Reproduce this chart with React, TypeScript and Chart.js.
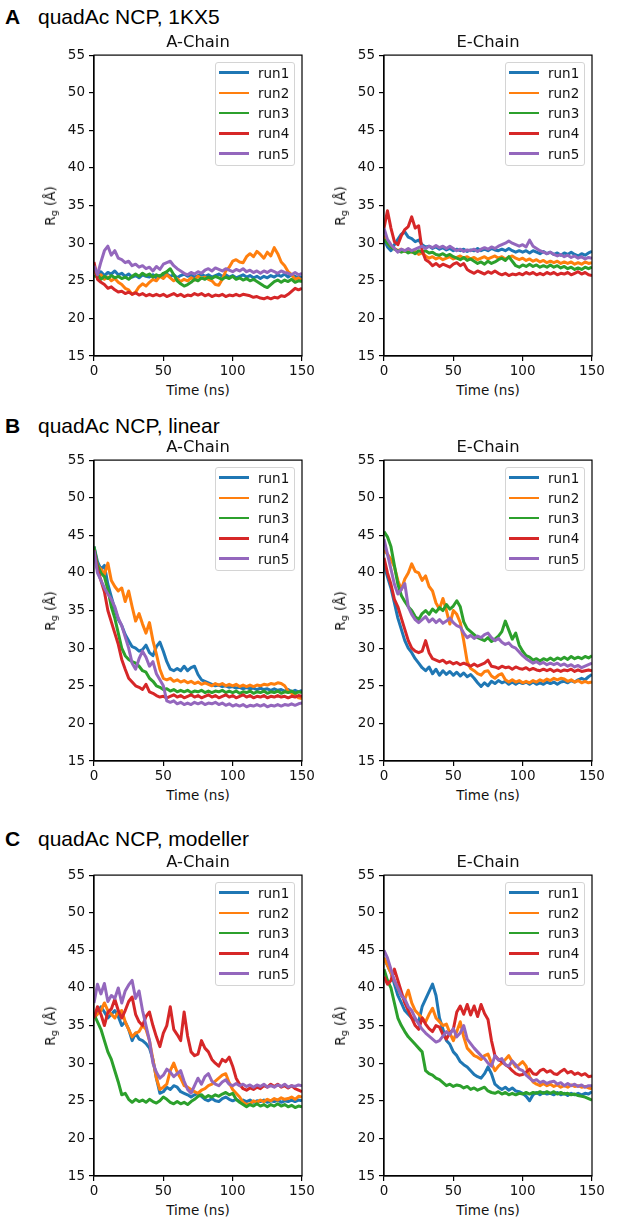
import React, { useEffect, useRef } from "react";
import { Chart, registerables } from "chart.js";

Chart.register(...registerables);

// ---------------- data ----------------
const TIME_NS = [
  0, 2.5, 5, 7.5, 10, 12.5, 15, 17.5, 20, 22.5,
  25, 27.5, 30, 32.5, 35, 37.5, 40, 42.5, 45, 47.5,
  50, 52.5, 55, 57.5, 60, 62.5, 65, 67.5, 70, 72.5,
  75, 77.5, 80, 82.5, 85, 87.5, 90, 92.5, 95, 97.5,
  100, 102.5, 105, 107.5, 110, 112.5, 115, 117.5, 120, 122.5,
  125, 127.5, 130, 132.5, 135, 137.5, 140, 142.5, 145, 147.5, 150,
];
const RUN_LABELS = ["run1", "run2", "run3", "run4", "run5"];
const RUN_COLORS = ["#1f77b4", "#ff7f0e", "#2ca02c", "#d62728", "#9467bd"];
const X_TICKS = [0, 50, 100, 150];
const Y_TICKS = [15, 20, 25, 30, 35, 40, 45, 50, 55];

// Panel A: 1KX5, A-Chain
const A1KX5_A_RUN1 = [
  26.5, 25.8, 26.2, 25.7, 26.1, 25.9, 26.3, 25.8, 26.0, 25.6,
  25.9, 25.5, 25.7, 25.4, 25.8, 25.6, 25.5, 25.8, 25.4, 25.7,
  25.5, 25.9, 25.6, 25.8, 25.4, 25.7, 25.9, 25.6, 25.8, 25.5,
  25.7, 25.9, 25.6, 25.8, 25.5, 25.7, 25.9, 25.6, 25.8, 25.5,
  25.7, 25.4, 25.6, 25.8, 25.5, 25.7, 25.4, 25.6, 25.3, 25.6,
  25.4, 25.7, 25.5, 25.8, 25.6, 25.9, 25.5, 25.8, 25.6, 25.4, 25.6,
];
const A1KX5_A_RUN2 = [
  26.5, 25.5, 25.8, 25.2, 25.5, 25.0, 25.3, 24.8, 24.5, 24.0,
  23.8, 23.2, 23.5, 24.2, 24.6, 24.3, 24.8, 25.2, 25.0, 25.6,
  25.3, 25.8, 25.4, 25.0, 25.3, 24.9, 25.2, 25.0, 25.4, 25.1,
  25.6, 25.3, 25.5, 25.2, 25.0, 24.5, 24.4, 25.2, 26.3, 26.8,
  27.6, 27.8, 27.5, 27.4, 28.2, 28.6, 28.2, 28.9, 28.5, 28.0,
  28.8, 28.3, 29.4, 28.6, 27.5, 27.0, 26.2, 25.8, 25.2, 25.4, 25.0,
];
const A1KX5_A_RUN3 = [
  25.5, 25.8, 25.2, 25.6, 25.3, 25.7, 25.4, 25.6, 25.3, 25.5,
  25.2, 25.6, 25.9, 25.6, 26.0, 25.7, 25.9, 25.5, 25.8, 25.6,
  26.0, 26.2, 26.6, 25.8, 25.0, 24.6, 24.3, 24.5, 24.8, 25.2,
  25.0, 25.4, 25.2, 25.5, 25.3, 25.6, 25.4, 25.2, 25.5, 25.3,
  25.6, 25.2, 25.4, 25.1, 25.3, 25.0, 25.2, 24.9, 24.6, 24.3,
  24.1, 24.5, 24.9, 25.1, 24.8, 25.1, 24.9, 25.2, 24.8, 25.0, 24.9,
];
const A1KX5_A_RUN4 = [
  27.5, 25.2, 24.8, 24.5, 24.0, 24.2, 23.8, 23.5, 23.6, 23.3,
  23.5, 23.2, 23.4, 23.1, 23.3, 23.0, 23.2, 23.0, 23.2, 23.0,
  23.2, 22.9, 23.1, 23.3, 23.0, 23.2, 22.9, 23.1, 23.0, 23.3,
  23.1, 23.3, 23.0, 23.2, 22.9, 23.1, 23.0, 23.2, 22.9, 23.1,
  23.0, 23.2, 23.0, 23.2, 23.1, 23.0, 22.8, 22.9, 22.7, 22.6,
  22.8, 22.6, 22.8, 22.7, 23.0, 22.9, 23.2, 23.6, 24.0, 23.8, 24.0,
];
const A1KX5_A_RUN5 = [
  27.0, 25.8, 27.5, 29.0, 29.6, 28.4, 29.0, 28.0, 27.8, 27.4,
  27.6, 27.0, 27.2, 26.8, 27.0, 26.6, 26.8, 26.3, 26.9, 26.5,
  27.2, 27.4, 27.6, 27.0, 26.6, 26.3, 26.0, 25.8, 26.1, 25.9,
  26.2, 26.0, 26.4, 26.6, 26.3, 26.7, 26.5, 26.3, 26.6, 26.4,
  26.2, 26.5, 26.3, 26.6, 26.2, 26.4, 26.1, 26.3, 26.0, 26.3,
  26.1, 26.4, 26.2, 26.0, 26.3, 26.1, 26.0, 25.8, 26.1, 25.8, 26.0,
];

// Panel A: 1KX5, E-Chain
const A1KX5_E_RUN1 = [
  30.5, 29.5, 29.0, 29.8, 30.5, 31.2, 31.5, 30.8, 30.6, 30.2,
  30.4, 29.8, 29.5, 29.6, 29.3, 29.5, 29.2, 29.4, 29.1, 29.3,
  29.0, 29.2, 29.0, 29.2, 28.9, 29.1, 29.0, 29.3, 29.0, 29.2,
  29.0, 29.3, 29.1, 29.0, 29.2, 29.0, 29.3, 29.0, 28.8, 29.0,
  28.8, 29.0, 28.7, 29.0, 28.8, 28.6, 28.9, 28.6, 28.8, 28.5,
  28.7, 28.4, 28.7, 28.5, 28.8, 28.5, 28.3, 28.6, 28.4, 28.7, 28.9,
];
const A1KX5_E_RUN2 = [
  31.0, 30.0, 29.5, 29.3, 29.0, 29.2, 28.9, 29.1, 28.8, 28.9,
  28.5, 28.7, 28.3, 28.0, 28.2, 27.9, 28.1, 27.8, 28.0, 28.2,
  27.9, 28.1, 28.3, 28.0, 28.2, 27.9, 28.1, 27.8, 28.0, 28.2,
  27.9, 28.1, 28.3, 28.0, 28.2, 27.9, 28.1, 28.3, 28.0, 27.8,
  28.0, 27.7, 27.9, 27.6, 27.8, 27.5, 27.7, 27.4, 27.6, 27.4,
  27.6, 27.3, 27.5, 27.3, 27.5, 27.2, 27.4, 27.2, 27.5, 27.3, 27.4,
];
const A1KX5_E_RUN3 = [
  30.5, 30.0, 29.5, 29.2, 29.0, 28.8, 29.0, 28.7, 28.9, 28.6,
  29.0, 28.8, 29.0, 28.7, 28.8, 28.5, 28.4, 28.6, 28.3, 28.5,
  28.2, 28.0, 27.8, 28.1, 27.7, 27.9, 27.6, 27.3, 27.5, 27.2,
  27.6, 27.3, 27.5, 27.8, 28.0, 27.7, 28.2, 27.6, 27.0, 26.8,
  27.1, 26.9, 27.2, 26.9, 27.1, 26.8, 27.0, 26.8, 27.1, 26.8,
  27.0, 26.7, 26.9, 26.6, 26.8, 26.5, 26.7, 26.5, 26.8, 26.6, 26.8,
];
const A1KX5_E_RUN4 = [
  32.0, 34.3, 32.0, 30.2, 29.8, 31.0, 31.8, 32.2, 33.5, 32.0,
  32.3, 29.0, 27.8, 27.5, 27.0, 27.3, 26.9, 27.2, 27.0, 26.8,
  27.2, 27.4, 27.0, 27.3, 26.5, 26.2, 26.0, 26.3, 26.1, 25.9,
  26.2, 26.0, 26.3, 26.0, 25.8, 26.0, 25.7, 25.9, 25.8, 26.0,
  25.8, 26.1, 25.9, 26.1, 25.8, 26.0, 25.8, 26.1, 25.9, 26.1,
  25.8, 26.0, 25.9, 26.1, 25.8, 26.0, 26.2, 25.9, 26.1, 25.8, 25.7,
];
const A1KX5_E_RUN5 = [
  32.0, 30.5, 29.8, 29.3, 28.8, 29.2, 29.0, 29.3, 29.0, 29.2,
  29.4, 29.6, 29.3, 29.6, 29.4, 29.7, 29.4, 29.6, 29.3, 29.6,
  29.3, 29.0, 29.2, 28.9, 29.1, 29.0, 29.2, 28.9, 29.2, 29.4,
  29.2, 29.5, 29.3, 29.6, 29.8, 30.0, 30.3, 30.0, 29.8, 29.6,
  29.8, 29.5, 30.4, 29.6, 29.3, 29.0, 28.8, 28.6, 28.8, 28.5,
  28.3, 28.5, 28.2, 28.4, 28.1, 28.3, 28.0, 28.2, 27.9, 28.1, 28.0,
];

// Panel B: linear, A-Chain
const BLIN_A_RUN1 = [
  43.5, 41.5, 40.5, 41.0, 38.5, 36.8, 35.2, 33.8, 33.0, 31.8,
  31.0, 30.2, 30.0, 29.6, 29.8, 30.4, 29.4, 29.0, 30.2, 30.8,
  29.6, 28.2, 27.2, 27.0, 27.3, 27.0, 27.6, 27.0, 27.4, 27.6,
  26.5, 25.8, 25.6, 25.4, 25.2, 25.0, 25.1, 24.9, 25.0, 24.8,
  24.9, 24.7, 24.8, 24.6, 24.8, 24.6, 24.7, 24.5, 24.7, 24.5,
  24.6, 24.4, 24.6, 24.4, 24.5, 24.3, 24.5, 24.2, 24.4, 24.2, 24.4,
];
const BLIN_A_RUN2 = [
  43.0, 41.0, 40.5, 39.8, 41.3, 39.0, 38.2, 37.6, 38.0, 36.2,
  37.6, 35.5, 33.6, 34.6, 33.2, 32.0, 33.4, 31.0, 29.2, 27.2,
  26.0, 25.8, 26.0, 25.6, 25.8, 25.5, 25.7, 25.4, 25.6, 25.3,
  25.5, 25.2, 25.4, 25.2, 25.0, 25.3, 25.1, 25.3, 25.0, 25.2,
  25.0, 25.2, 24.9, 25.1, 24.9, 25.1, 24.9, 25.1, 25.0, 25.2,
  25.1, 25.3, 25.2, 25.4, 25.3, 25.0, 24.3, 24.0, 23.8, 23.4, 23.3,
];
const BLIN_A_RUN3 = [
  43.5, 41.0, 40.0, 39.5, 37.8, 35.5, 34.0, 32.0, 30.0, 29.0,
  28.5, 28.2, 28.0, 27.6, 27.0, 26.8, 26.0, 25.6, 25.0, 24.8,
  24.5, 24.6, 24.3, 24.5, 24.2, 24.4, 24.2, 24.4, 24.1, 24.3,
  24.2, 24.4, 24.1, 24.3, 24.1, 24.3, 24.2, 24.4, 24.1, 24.3,
  24.1, 24.3, 24.0, 24.2, 24.1, 24.3, 24.0, 24.2, 24.1, 24.3,
  24.0, 24.2, 24.1, 24.3, 24.0, 24.2, 24.1, 24.3, 24.0, 24.2, 24.1,
];
const BLIN_A_RUN4 = [
  43.0, 40.5, 39.0, 37.5, 35.0, 33.5, 32.0, 30.5, 28.5, 27.2,
  26.0, 25.5, 25.0, 24.8, 24.5, 25.2, 24.2, 24.0, 23.7, 23.5,
  23.6, 23.4, 23.6, 23.8, 23.5, 23.7, 23.4, 23.6, 23.8, 23.5,
  23.7, 23.4, 23.6, 23.8, 23.5, 23.7, 23.4, 23.6, 23.8, 23.5,
  23.7, 23.4, 23.6, 23.8, 23.5, 23.7, 23.4, 23.6, 23.5, 23.7,
  23.4, 23.6, 23.5, 23.7, 23.5, 23.6, 23.4, 23.6, 23.5, 23.7, 23.6,
];
const BLIN_A_RUN5 = [
  43.0, 40.0, 39.0, 38.0, 37.2, 36.5, 35.5, 34.0, 33.0, 31.5,
  30.0, 28.0, 27.2, 28.6, 29.6, 28.8, 27.6, 28.2, 26.6, 25.8,
  25.0, 23.0, 22.8, 23.0, 22.6, 22.8, 22.5, 22.7, 22.5, 22.8,
  22.6, 22.8, 22.5, 22.7, 22.6, 22.8, 22.5, 22.7, 22.4, 22.6,
  22.3, 22.5, 22.3, 22.5, 22.2, 22.4, 22.3, 22.5, 22.3, 22.5,
  22.2, 22.4, 22.3, 22.5, 22.3, 22.5, 22.4, 22.6, 22.4, 22.6, 22.7,
];

// Panel B: linear, E-Chain
const BLIN_E_RUN1 = [
  41.0, 39.5, 38.0, 36.0, 34.0, 32.5, 31.0, 30.0, 29.4, 28.6,
  28.0, 27.4, 27.0, 27.5, 26.6, 27.2, 26.4, 27.0, 26.5, 26.9,
  26.4, 26.8, 26.3, 26.7, 26.2, 26.5, 26.0, 25.4, 24.9, 25.4,
  25.0, 25.6, 25.3, 25.7, 25.4, 25.6, 25.2, 25.5, 25.2, 25.5,
  25.3, 25.5, 25.2, 25.5, 25.2, 25.4, 25.2, 25.5, 25.3, 25.5,
  25.2, 25.5, 25.6, 25.4, 25.7, 25.5, 25.8, 26.0, 25.8, 26.2, 26.5,
];
const BLIN_E_RUN2 = [
  43.0, 42.5, 41.8, 40.8, 39.0, 37.8, 39.2, 40.0, 41.2, 40.2,
  40.0, 39.0, 39.6, 38.2, 37.6, 36.0, 35.2, 36.6, 35.0, 33.2,
  35.0, 34.5, 33.4, 31.0, 28.2, 27.3, 27.0, 26.6, 26.4, 26.9,
  27.0, 26.3, 26.0, 26.4, 26.6, 25.8, 25.5, 25.8, 25.5, 25.7,
  25.4, 25.6, 25.4, 25.7, 25.5, 25.8, 25.6, 25.9, 25.7, 26.0,
  25.8, 26.0, 25.9, 25.6, 25.8, 25.5, 25.7, 25.4, 25.6, 25.4, 25.5,
];
const BLIN_E_RUN3 = [
  45.5, 44.8, 43.5, 41.0, 38.5, 37.0, 36.2, 35.5, 35.0, 34.2,
  33.8, 34.6, 35.0, 34.5, 35.2, 34.8, 35.4, 35.0, 35.8, 35.2,
  35.6, 36.3, 35.5, 33.5, 32.6, 32.2, 31.8, 31.4, 31.2, 31.0,
  31.4, 30.9, 31.2, 31.6, 32.2, 33.6, 32.4, 31.2, 32.0, 30.4,
  29.6, 29.0, 28.8, 28.4, 28.6, 28.3, 28.6, 28.4, 28.7, 28.4,
  28.7, 28.5, 28.8, 28.5, 28.9, 28.6, 28.8, 28.6, 28.9, 28.7, 29.0,
];
const BLIN_E_RUN4 = [
  42.0, 40.0, 38.5, 36.5, 35.5, 34.0, 32.5, 31.0, 30.0, 29.6,
  29.4, 29.6, 31.0, 29.4, 28.6, 28.4, 28.2, 28.4, 28.0, 28.2,
  27.9, 28.1, 27.8, 28.0, 27.8, 27.6, 27.9, 27.6, 27.8, 28.0,
  28.4, 27.6, 27.5, 27.3, 27.6, 27.4, 27.5, 27.2, 27.5, 27.3,
  27.2, 27.4, 27.1, 27.3, 27.1, 27.0, 27.2, 27.0, 27.2, 26.9,
  27.1, 26.9, 27.1, 27.0, 27.2, 26.9, 27.1, 26.9, 27.0, 27.1, 27.0,
];
const BLIN_E_RUN5 = [
  44.5, 42.5, 40.5, 38.5, 37.2, 37.8, 38.6, 35.5, 34.5, 33.8,
  33.4, 33.8, 34.2, 33.5, 33.9, 33.4, 33.8, 33.3, 33.6, 34.0,
  33.4, 33.0, 32.8, 32.0, 31.4, 31.7, 31.3, 31.6, 31.4, 31.8,
  32.0, 31.4, 31.0, 31.3, 30.8, 30.5, 30.7, 30.2, 30.0, 29.5,
  29.0, 28.6, 28.3, 28.0, 28.2, 27.9, 28.1, 27.8, 28.0, 27.8,
  28.0, 27.7, 27.9, 27.6, 27.8, 27.5, 27.7, 27.4, 27.6, 27.8, 28.0,
];

// Panel C: modeller, A-Chain
const CMOD_A_RUN1 = [
  36.0, 36.8, 37.5, 36.8, 36.0, 36.5, 37.0, 36.2, 35.0, 35.5,
  34.5, 33.0, 34.0, 33.2, 33.0, 32.6, 32.0, 30.5, 28.0, 26.0,
  26.2, 26.8, 26.5, 27.0, 26.8, 26.2, 26.0, 25.8, 25.5, 25.8,
  26.0, 25.6, 25.2, 25.0, 25.3, 25.0, 24.9, 25.3, 25.5, 25.2,
  25.0, 25.2, 24.9, 25.1, 24.9, 25.1, 24.8, 25.0, 24.9, 25.1,
  24.8, 25.0, 24.9, 25.1, 24.8, 25.0, 24.9, 25.1, 24.9, 25.1, 25.0,
];
const CMOD_A_RUN2 = [
  36.0, 36.5, 37.0, 38.0, 37.0, 36.5, 36.0, 36.8, 37.0, 35.5,
  34.5, 33.5, 34.0, 34.2, 35.0, 34.5, 33.0, 30.5, 28.0, 26.5,
  26.8, 27.2, 29.0, 30.0, 28.8, 28.0, 27.0, 26.8, 26.5, 26.2,
  26.0, 26.4, 26.6, 27.0, 27.2, 27.6, 28.0, 28.4, 28.6, 27.4,
  26.5, 26.0, 25.5, 24.8, 24.5, 24.6, 25.0, 24.8, 25.1, 24.9,
  25.2, 25.0, 25.3, 25.1, 25.4, 25.2, 25.3, 25.5, 25.2, 25.6, 25.5,
];
const CMOD_A_RUN3 = [
  36.5, 35.5, 34.5, 33.0, 31.5, 30.5, 29.0, 27.5, 25.8, 26.0,
  25.2, 24.8, 25.2, 24.9, 25.1, 24.8, 25.2, 24.9, 24.7, 25.0,
  25.5, 25.2, 24.8, 24.6, 24.9, 24.6, 24.8, 24.5, 24.9, 25.2,
  25.6, 25.8, 25.4, 25.7, 25.5, 25.8, 25.6, 25.9, 26.1, 25.8,
  26.0, 25.2, 24.8, 24.5, 24.2, 24.5, 24.3, 24.6, 24.3, 24.5,
  24.2, 24.5, 24.3, 24.6, 24.3, 24.5, 24.2, 24.4, 24.1, 24.3, 24.2,
];
const CMOD_A_RUN4 = [
  36.0, 37.5, 36.5, 35.0, 36.8, 37.2, 38.5, 37.0, 36.0, 37.0,
  38.2, 38.8, 36.5, 35.5, 35.0, 36.2, 36.8, 35.0, 33.5, 32.2,
  34.0, 35.0, 37.5, 34.5, 33.8, 33.0, 36.8, 33.6, 31.5, 31.0,
  31.2, 33.0, 32.0, 31.5, 30.5, 30.0, 29.6, 30.5, 30.2, 30.8,
  29.6, 28.0, 27.2, 26.6, 26.4, 26.7, 26.5, 26.8, 26.6, 27.0,
  26.8, 27.2, 26.9, 27.2, 26.8, 27.0, 26.7, 27.0, 26.6, 26.4, 26.2,
];
const CMOD_A_RUN5 = [
  38.0, 40.5, 39.2, 40.6, 38.2, 39.0, 38.6, 40.0, 38.0, 39.6,
  40.4, 41.0, 38.6, 39.6, 37.0, 35.0, 33.0, 30.0, 28.8, 28.0,
  28.4, 29.2, 28.8, 28.2, 28.6, 29.0, 27.6, 26.5, 26.0, 27.0,
  28.0, 27.2, 28.2, 28.6, 27.6, 27.2, 27.0, 27.5, 27.8, 27.2,
  27.0, 27.3, 27.0, 27.2, 26.9, 27.1, 26.8, 27.1, 26.9, 27.2,
  26.8, 27.0, 26.8, 27.1, 26.9, 27.2, 26.8, 27.0, 26.9, 27.1, 27.0,
];

// Panel C: modeller, E-Chain
const CMOD_E_RUN1 = [
  44.0, 43.0, 42.0, 40.5, 39.0, 38.0, 37.0, 36.5, 36.0, 35.8,
  35.5, 37.5, 38.5, 39.5, 40.5, 39.0, 36.0, 34.5, 33.0, 32.5,
  31.5, 31.0, 30.2, 29.8, 29.5, 29.0, 28.5, 28.2, 28.0, 28.6,
  29.5, 28.6, 27.2, 26.8, 26.5, 26.8, 26.4, 26.7, 26.3, 26.2,
  26.0, 25.6, 25.0, 25.8, 26.1, 25.8, 26.1, 25.9, 26.0, 25.8,
  26.1, 25.8, 26.0, 25.7, 26.0, 25.8, 26.0, 25.8, 26.0, 25.9, 26.2,
];
const CMOD_E_RUN2 = [
  44.0, 43.0, 42.0, 41.0, 40.0, 39.0, 38.5, 39.7, 38.0, 37.0,
  36.5, 36.0, 35.5, 36.5, 37.3, 36.0, 35.5, 35.0, 35.2, 34.0,
  33.0, 34.2, 35.5, 33.5, 32.0, 31.5, 31.0, 30.8, 30.5, 31.0,
  31.2, 30.0, 29.0, 29.6, 30.0, 30.5, 31.0, 30.2, 29.5, 29.8,
  30.2, 29.6, 28.2, 27.5, 27.2, 27.0, 27.3, 27.0, 27.2, 26.9,
  27.1, 26.8, 27.0, 26.8, 27.1, 26.9, 27.0, 26.8, 26.9, 26.7, 26.6,
];
const CMOD_E_RUN3 = [
  42.5, 41.0, 40.0, 38.0, 36.0, 35.0, 34.2, 33.5, 33.0, 32.5,
  32.0, 31.5, 29.0, 28.6, 28.4, 28.0, 27.8, 27.4, 27.0, 27.2,
  26.9, 27.1, 27.0, 26.7, 26.9, 26.5, 26.7, 26.4, 26.6, 26.8,
  26.3, 26.1, 26.0, 26.2, 25.9, 26.1, 25.8, 26.0, 25.8, 26.0,
  25.9, 26.1, 25.9, 26.1, 26.0, 26.2, 26.0, 26.2, 26.0, 26.2,
  25.9, 26.1, 25.9, 26.0, 25.8, 25.9, 25.7, 25.6, 25.5, 25.3, 25.1,
];
const CMOD_E_RUN4 = [
  41.5, 40.5, 41.0, 42.5, 41.0, 39.5, 38.0, 37.0, 36.0, 35.0,
  34.5, 36.0, 35.2, 34.6, 34.2, 35.0, 34.8, 33.8, 33.2, 34.0,
  34.5, 36.8, 37.6, 36.5, 37.8, 36.4, 37.6, 36.2, 37.8, 36.6,
  35.8, 33.0, 31.0, 30.5, 30.2, 29.8, 29.5, 29.0, 28.6, 28.4,
  28.5, 28.8, 29.2, 28.6, 28.5, 29.0, 29.2, 28.8, 29.0, 28.6,
  28.5, 28.9, 29.2, 28.7, 28.9, 28.5, 28.7, 28.4, 28.6, 28.2, 28.3,
];
const CMOD_E_RUN5 = [
  45.0, 44.0, 42.5, 41.0, 40.0, 39.0, 38.5, 37.5, 37.0, 36.0,
  35.2, 34.5, 34.0, 33.6, 33.2, 32.8, 33.0, 33.6, 34.2, 33.8,
  34.6, 33.5, 34.0, 35.0, 33.2, 32.6, 32.0, 31.5, 31.0, 30.6,
  30.0, 29.6, 31.0, 30.4, 30.6, 29.8, 29.6, 30.3, 29.8, 29.2,
  29.0, 28.4, 28.0, 27.6, 27.8, 27.4, 27.6, 27.3, 27.5, 27.6,
  27.2, 27.4, 27.0, 27.3, 27.0, 27.2, 26.9, 27.1, 26.8, 27.0, 27.0,
];

// ---------------- layout ----------------
const PLOT_W = 208;
const PLOT_H = 301;
const LEFT_X = [94, 384];
const Y_AXIS_W = 60;
const X_AXIS_H = 24;
const PAD_TOP = 12;
const PAD_RIGHT = 20;

const TICK_FONT = "'DejaVu Sans', 'Bitstream Vera Sans', sans-serif";

const PANELS = [
  {
    letter: "A",
    heading: "quadAc NCP, 1KX5",
    headTop: 4.7,
    plotTop: 55,
    chains: [
      { title: "A-Chain", runs: [A1KX5_A_RUN1, A1KX5_A_RUN2, A1KX5_A_RUN3, A1KX5_A_RUN4, A1KX5_A_RUN5] },
      { title: "E-Chain", runs: [A1KX5_E_RUN1, A1KX5_E_RUN2, A1KX5_E_RUN3, A1KX5_E_RUN4, A1KX5_E_RUN5] },
    ],
  },
  {
    letter: "B",
    heading: "quadAc NCP, linear",
    headTop: 414,
    plotTop: 460,
    chains: [
      { title: "A-Chain", runs: [BLIN_A_RUN1, BLIN_A_RUN2, BLIN_A_RUN3, BLIN_A_RUN4, BLIN_A_RUN5] },
      { title: "E-Chain", runs: [BLIN_E_RUN1, BLIN_E_RUN2, BLIN_E_RUN3, BLIN_E_RUN4, BLIN_E_RUN5] },
    ],
  },
  {
    letter: "C",
    heading: "quadAc NCP, modeller",
    headTop: 827.4,
    plotTop: 875,
    chains: [
      { title: "A-Chain", runs: [CMOD_A_RUN1, CMOD_A_RUN2, CMOD_A_RUN3, CMOD_A_RUN4, CMOD_A_RUN5] },
      { title: "E-Chain", runs: [CMOD_E_RUN1, CMOD_E_RUN2, CMOD_E_RUN3, CMOD_E_RUN4, CMOD_E_RUN5] },
    ],
  },
];

const framePlugin = {
  id: "frameBox",
  afterDraw(chart: any) {
    const { ctx, chartArea } = chart;
    const { left, top, right, bottom } = chartArea;
    ctx.save();
    ctx.strokeStyle = "#000";
    ctx.lineWidth = 1.2;
    ctx.strokeRect(left, top, right - left, bottom - top);
    ctx.restore();
  },
};

function LinePlot({ runs }: { runs: number[][] }) {
  const ref = useRef<HTMLCanvasElement | null>(null);
  const cw = PLOT_W + Y_AXIS_W + PAD_RIGHT;
  const ch = PLOT_H + PAD_TOP + X_AXIS_H;

  useEffect(() => {
    if (!ref.current) return;
    const datasets = runs.map((vals, k) => ({
      label: RUN_LABELS[k],
      data: TIME_NS.map((t, i) => ({ x: t, y: vals[i] })),
      borderColor: RUN_COLORS[k],
      backgroundColor: RUN_COLORS[k],
      borderWidth: 3,
      borderJoinStyle: "round",
      pointRadius: 0,
      fill: false,
      tension: 0,
      order: runs.length - k,
    }));
    const tickFont = { family: TICK_FONT, size: 13.5 };
    const chart = new Chart(ref.current, {
      type: "line",
      data: { datasets },
      options: {
        responsive: false,
        animation: false,
        events: [],
        layout: { padding: { top: PAD_TOP, right: PAD_RIGHT, bottom: 0, left: 0 } },
        plugins: {
          legend: { display: false },
          tooltip: { enabled: false },
          title: { display: false },
        },
        scales: {
          x: {
            type: "linear",
            min: X_TICKS[0],
            max: X_TICKS[X_TICKS.length - 1],
            afterBuildTicks: (axis: any) => {
              axis.ticks = X_TICKS.map((v) => ({ value: v }));
            },
            afterFit: (axis: any) => {
              axis.height = X_AXIS_H;
            },
            ticks: { font: tickFont, color: "#111", padding: 2, maxRotation: 0 },
            grid: {
              display: true,
              drawOnChartArea: false,
              drawTicks: true,
              tickLength: 5,
              color: "#000",
              lineWidth: 1.2,
            },
            border: { display: true, color: "#000", width: 1.2 },
          },
          y: {
            type: "linear",
            min: Y_TICKS[0],
            max: Y_TICKS[Y_TICKS.length - 1],
            afterBuildTicks: (axis: any) => {
              axis.ticks = Y_TICKS.map((v) => ({ value: v }));
            },
            afterFit: (axis: any) => {
              axis.width = Y_AXIS_W;
            },
            ticks: { font: tickFont, color: "#111", padding: 4 },
            grid: {
              display: true,
              drawOnChartArea: false,
              drawTicks: true,
              tickLength: 5,
              color: "#000",
              lineWidth: 1.2,
            },
            border: { display: true, color: "#000", width: 1.2 },
          },
        },
      } as any,
      plugins: [framePlugin],
    });
    return () => chart.destroy();
  }, [runs]);

  return (
    <canvas
      ref={ref}
      width={cw}
      height={ch}
      style={{ width: cw, height: ch, display: "block" }}
    />
  );
}

function Legend({ left, top }: { left: number; top: number }) {
  return (
    <div
      style={{
        position: "absolute",
        left,
        top,
        width: 80,
        height: 104,
        boxSizing: "border-box",
        border: "1px solid #d4d4d4",
        borderRadius: 3,
        background: "rgba(255,255,255,0.85)",
      }}
    >
      {RUN_LABELS.map((lab, k) => {
        const cy = 10.2 + k * 20.2;
        return (
          <React.Fragment key={lab}>
            <div
              style={{
                position: "absolute",
                left: 2.5,
                top: cy - 1.3,
                width: 30,
                height: 2.6,
                background: RUN_COLORS[k],
              }}
            />
            <div
              style={{
                position: "absolute",
                left: 42,
                top: cy - 8,
                height: 16,
                lineHeight: "16px",
                fontFamily: TICK_FONT,
                fontSize: 13.5,
                color: "#111",
                whiteSpace: "nowrap",
              }}
            >
              {lab}
            </div>
          </React.Fragment>
        );
      })}
    </div>
  );
}

function Subplot({ plotLeft, plotTop, title, runs }: { plotLeft: number; plotTop: number; title: string; runs: number[][] }) {
  const plotRight = plotLeft + PLOT_W;
  const plotBottom = plotTop + PLOT_H;
  return (
    <>
      <div style={{ position: "absolute", left: plotLeft - Y_AXIS_W, top: plotTop - PAD_TOP }}>
        <LinePlot runs={runs} />
      </div>
      <div
        style={{
          position: "absolute",
          left: plotLeft,
          width: PLOT_W,
          top: plotTop - 14 - 9.2,
          textAlign: "center",
          fontFamily: TICK_FONT,
          fontSize: 16.4,
          lineHeight: "19px",
          color: "#111",
          whiteSpace: "nowrap",
        }}
      >
        {title}
      </div>
      <div
        style={{
          position: "absolute",
          left: plotLeft,
          width: PLOT_W,
          top: plotBottom + 26,
          textAlign: "center",
          fontFamily: TICK_FONT,
          fontSize: 13.5,
          lineHeight: "16px",
          color: "#111",
          whiteSpace: "nowrap",
        }}
      >
        Time (ns)
      </div>
      <div
        style={{
          position: "absolute",
          left: plotLeft - 44,
          top: plotTop + PLOT_H / 2,
          transform: "translate(-50%, -50%) rotate(-90deg)",
          fontFamily: TICK_FONT,
          fontSize: 13.5,
          lineHeight: "16px",
          color: "#111",
          whiteSpace: "nowrap",
        }}
      >
        R<sub style={{ fontSize: "70%", verticalAlign: "-0.25em", lineHeight: 0 }}>g</sub> (Å)
      </div>
      <Legend left={plotRight - 87} top={plotTop + 6.5} />
    </>
  );
}

export default function App() {
  return (
    <div
      style={{
        position: "absolute",
        left: 0,
        top: 0,
        width: 617,
        height: 1226,
        background: "#fff",
        overflow: "hidden",
      }}
    >
      {PANELS.map((p) => (
        <React.Fragment key={p.letter}>
          <div
            style={{
              position: "absolute",
              left: 5,
              top: p.headTop,
              fontFamily: "'Liberation Sans', Arial, sans-serif",
              fontSize: 21,
              lineHeight: "24px",
              color: "#000",
              whiteSpace: "nowrap",
            }}
          >
            <span style={{ fontWeight: "bold" }}>{p.letter}</span>
            <span style={{ position: "absolute", left: 33 }}>{p.heading}</span>
          </div>
          {p.chains.map((c, ci) => (
            <Subplot key={c.title} plotLeft={LEFT_X[ci]} plotTop={p.plotTop} title={c.title} runs={c.runs} />
          ))}
        </React.Fragment>
      ))}
    </div>
  );
}
